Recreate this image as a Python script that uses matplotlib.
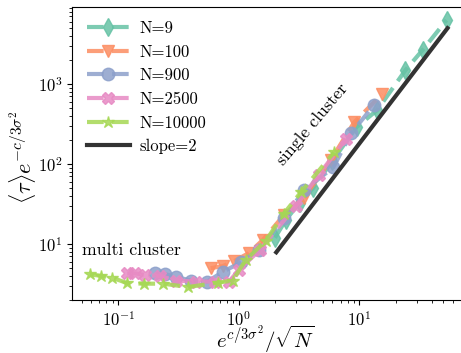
import numpy as np
import matplotlib
matplotlib.use("Agg")
import matplotlib.pyplot as plt

plt.rcParams["font.family"] = "serif"
plt.rcParams["font.serif"] = ["cmr10", "DejaVu Serif"]
plt.rcParams["mathtext.fontset"] = "cm"
plt.rcParams["axes.formatter.use_mathtext"] = True

# values (x = e^{c/3sigma^2}/sqrt(N), y = <tau> e^{-c/3sigma^2})
x_n9 = [2.0, 2.46, 3.2, 4.14, 6.0, 9.5, 14.1, 24.2, 33.5, 53.0]
y_n9 = [12, 20, 33, 50, 110, 290, 473, 1496, 2660, 6300]

x_n100 = [0.585, 0.736, 0.91, 1.21, 1.58, 2.37, 3.48, 5.8, 9.1, 15.5]
y_n100 = [5.0, 5.3, 6.1, 7.7, 11.2, 23, 38, 112, 335, 750]

x_n900 = [0.204, 0.246, 0.30, 0.40, 0.55, 0.74, 1.04, 1.47, 2.37, 3.48, 6.1, 8.6, 13.3]
y_n900 = [4.3, 4.2, 3.9, 3.5, 3.4, 4.5, 5.9, 8.4, 21, 47, 91, 245, 549]

x_n2500 = [0.119, 0.139, 0.168, 0.224, 0.30, 0.44, 0.64, 0.83, 1.0, 1.5, 2.98, 4.6, 7.8]
y_n2500 = [4.3, 4.3, 4.1, 4.0, 3.5, 3.4, 3.4, 3.4, 4.7, 8.5, 30, 73, 206]

x_n10000 = [0.058, 0.072, 0.089, 0.119, 0.165, 0.237, 0.38, 0.67, 0.89, 1.14, 1.68, 2.37, 3.3, 6.2]
y_n10000 = [4.2, 4.0, 3.8, 3.25, 3.2, 3.2, 2.9, 3.3, 3.5, 6.3, 11, 24, 45, 141]

slope_x = [2.05, 54.0]
slope_y = [7.9, 5000.0]

series = [
    (x_n9, y_n9, "d", "#66c2a5", "N=9"),
    (x_n100, y_n100, "v", "#fc8d62", "N=100"),
    (x_n900, y_n900, "o", "#8da0cb", "N=900"),
    (x_n2500, y_n2500, "X", "#e78ac3", "N=2500"),
    (x_n10000, y_n10000, "*", "#a6d854", "N=10000"),
]

fig = plt.figure(figsize=(4.61, 3.53), dpi=100)
ax = fig.add_axes([72 / 461, 53 / 353, 392 / 461, 293 / 353])

for xs, ys, m, c, lab in series:
    ax.plot(xs, ys, "--", marker=m, color=c, lw=3, ms=9, alpha=0.85,
            label=lab, dashes=(4, 2))

ax.plot(slope_x, slope_y, "-", color="#333333", lw=3, label="slope=2")

ax.set_xscale("log")
ax.set_yscale("log")
ax.set_xlim(0.0414, 74)
ax.set_ylim(2.0, 9200)

ax.text(0.0505, 7.3, "multi cluster", fontsize=12.8)
ax.text(2.37, 95, "single cluster", fontsize=12.8, rotation=50,
        rotation_mode="anchor", ha="left", va="baseline")

ax.set_xlabel(r"$e^{c/3\sigma^2}/\sqrt{N}$", fontsize=15)
ax.set_ylabel(r"$\langle\tau\rangle e^{-c/3\sigma^2}$", fontsize=16)
ax.xaxis.set_label_coords(0.494, -0.082)
ax.yaxis.set_label_coords(-0.082, 0.488)
ax.tick_params(labelsize=12)

ax.legend(loc="upper left", bbox_to_anchor=(0.02, 0.976), frameon=False,
          fontsize=12, handlelength=2.6, handletextpad=0.6, borderaxespad=0)

fig.savefig("out.png", dpi=100)
